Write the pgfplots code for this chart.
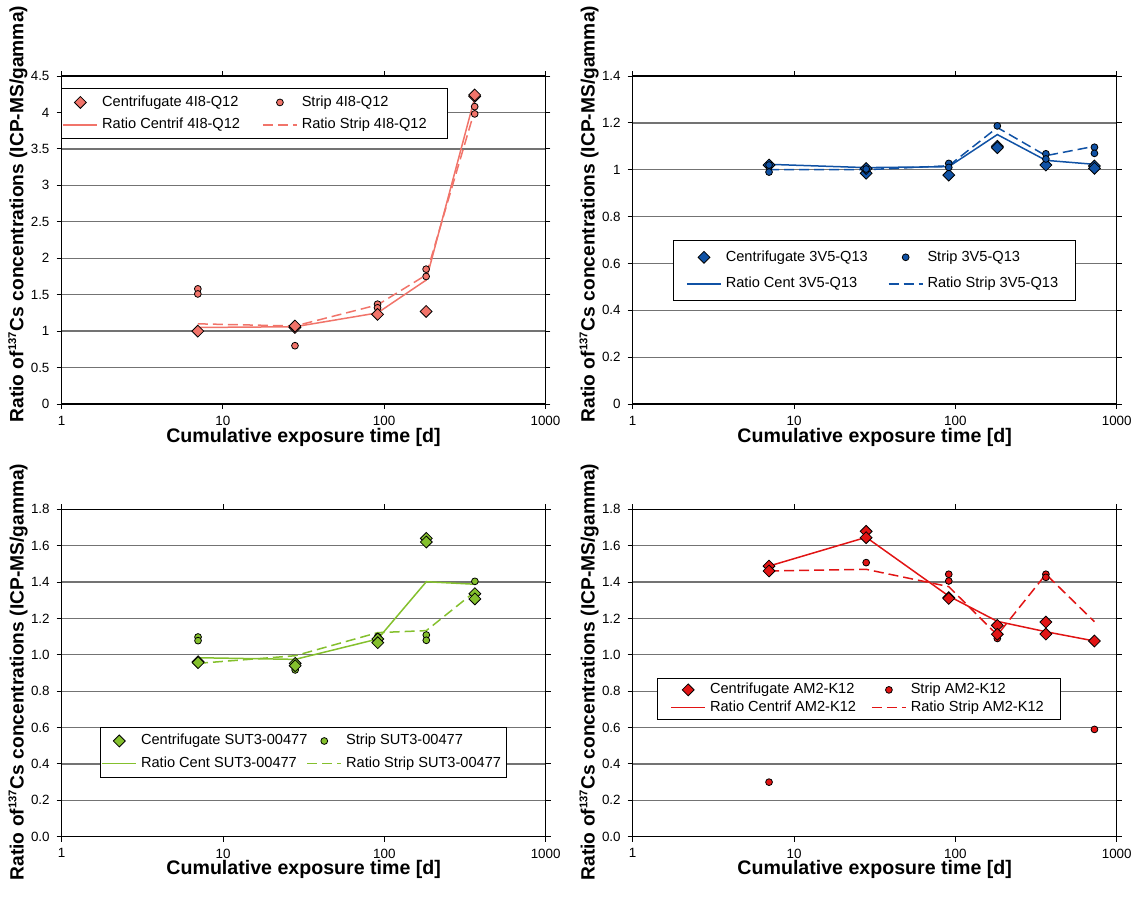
\documentclass[border=0pt]{standalone}
\usepackage{pgfplots}
\pgfplotsset{compat=1.18}
\usepackage{fontspec}
\setmainfont{Liberation Sans}
\definecolor{cA}{RGB}{241,116,106}
\definecolor{cB}{RGB}{16,82,165}
\definecolor{cC}{RGB}{132,192,45}
\definecolor{cD}{RGB}{225,20,20}
\newcommand{\ylab}{Ratio of\textsuperscript{\fontsize{5.6}{6}\selectfont 137}Cs concentrations (ICP-MS/gamma)}
\begin{document}
\begin{tikzpicture}
\path[use as bounding box] (0,0) rectangle (570.5pt,-455.5pt);

% Panel 1
\begin{axis}[at={(30.75pt,-202pt)}, anchor=south west,
  scale only axis, width=242pt, height=164pt,
  xmode=log, xmin=1, xmax=1000,
  xtick={1,10,100,1000}, xticklabels={1,10,100,1000},
  xminorticks=false, yminorticks=false,
  ymajorgrids, grid style={black!55, line width=0.65pt},
  axis line style={line width=0.65pt},
  tick align=outside, major tick length=2.5pt,
  tick style={black, line width=0.5pt},
  ticklabel style={font=\fontsize{6.7}{8}\selectfont},
  xlabel={Cumulative exposure time [d]},
  xlabel style={font=\bfseries\fontsize{9.8}{11}\selectfont, at={(axis description cs:0.5,-0.1006)}, anchor=center},
  ylabel={\ylab},
  ylabel style={font=\bfseries\fontsize{9.6}{11}\selectfont, at={(axis description cs:-0.09,0.579)}, anchor=center},
  ymin=0, ymax=4.5, ytick={0,0.5,1,1.5,2,2.5,3,3.5,4,4.5},
  yticklabels={0,0.5,1,1.5,2,2.5,3,3.5,4,4.5},
  legend cell align=left, legend columns=2,
  legend style={font=\fontsize{7.3}{8.5}\selectfont, draw=black, line width=0.5pt, fill=white,
    inner xsep=0.5pt, inner ysep=1.5pt, at={(axis description cs:-0.001,0.963)}, anchor=north west, row sep=0.5pt,
    /tikz/every even column/.append style={column sep=9pt}}]
\addlegendimage{only marks, mark=square*, mark size=2.1pt, mark options={solid, rotate=45, draw=black, line width=0.4pt, fill=cA}}
\addlegendentry{Centrifugate 4I8-Q12}
\addlegendimage{only marks, mark=*, mark size=1.7pt, mark options={solid, draw=black, line width=0.4pt, fill=cA}}
\addlegendentry{Strip 4I8-Q12}
\addplot[no marks, solid, line width=0.75pt, color=cA] coordinates {(7,1.05) (28,1.06) (91,1.25) (182,1.70) (364,4.20)};
\addlegendentry{Ratio Centrif 4I8-Q12}
\addplot[no marks, line width=0.75pt, color=cA, dash pattern=on 5pt off 2.5pt] coordinates {(7,1.10) (28,1.07) (91,1.36) (182,1.77) (364,4.03)};
\addlegendentry{Ratio Strip 4I8-Q12\hspace*{8pt}}
\addplot[only marks, mark=*, mark size=1.7pt, mark options={solid, draw=black, line width=0.4pt, fill=cA}, forget plot] coordinates {(7,1.58) (7,1.51) (28,0.80) (91,1.37) (91,1.32) (182,1.85) (182,1.75) (364,4.08) (364,3.98)};
\addplot[only marks, mark=square*, mark size=2.1pt, mark options={solid, rotate=45, draw=black, line width=0.4pt, fill=cA}, forget plot] coordinates {(7,1.00) (28,1.05) (28,1.07) (91,1.23) (182,1.27) (364,4.22) (364,4.24)};
\end{axis}

% Panel 2
\begin{axis}[at={(316.35pt,-202pt)}, anchor=south west,
  scale only axis, width=242pt, height=164pt,
  xmode=log, xmin=1, xmax=1000,
  xtick={1,10,100,1000}, xticklabels={1,10,100,1000},
  xminorticks=false, yminorticks=false,
  ymajorgrids, grid style={black!55, line width=0.65pt},
  axis line style={line width=0.65pt},
  tick align=outside, major tick length=2.5pt,
  tick style={black, line width=0.5pt},
  ticklabel style={font=\fontsize{6.7}{8}\selectfont},
  xlabel={Cumulative exposure time [d]},
  xlabel style={font=\bfseries\fontsize{9.8}{11}\selectfont, at={(axis description cs:0.5,-0.1006)}, anchor=center},
  ylabel={\ylab},
  ylabel style={font=\bfseries\fontsize{9.6}{11}\selectfont, at={(axis description cs:-0.09,0.579)}, anchor=center},
  ymin=0, ymax=1.4, ytick={0,0.2,0.4,0.6,0.8,1,1.2,1.4},
  yticklabels={0,0.2,0.4,0.6,0.8,1,1.2,1.4},
  legend cell align=left, legend columns=2,
  legend style={font=\fontsize{7.3}{8.5}\selectfont, draw=black, line width=0.5pt, fill=white,
    inner xsep=6.5pt, inner ysep=3pt, at={(axis description cs:0.0826,0.5)}, anchor=north west, row sep=2.5pt,
    /tikz/every even column/.append style={column sep=8pt}}]
\addlegendimage{only marks, mark=square*, mark size=2.1pt, mark options={solid, rotate=45, draw=black, line width=0.4pt, fill=cB}}
\addlegendentry{Centrifugate 3V5-Q13}
\addlegendimage{only marks, mark=*, mark size=1.7pt, mark options={solid, draw=black, line width=0.4pt, fill=cB}}
\addlegendentry{Strip 3V5-Q13}
\addplot[no marks, solid, line width=0.75pt, color=cB] coordinates {(7,1.023) (28,1.009) (91,1.013) (182,1.15) (364,1.04) (728,1.023)};
\addlegendentry{Ratio Cent 3V5-Q13}
\addplot[no marks, line width=0.75pt, color=cB, dash pattern=on 5pt off 2.5pt] coordinates {(7,1.0) (28,1.0) (91,1.017) (182,1.18) (364,1.06) (728,1.10)};
\addlegendentry{Ratio Strip 3V5-Q13}
\addplot[only marks, mark=square*, mark size=2.1pt, mark options={solid, rotate=45, draw=black, line width=0.4pt, fill=cB}, forget plot] coordinates {(7,1.02) (28,0.985) (28,1.005) (91,0.977) (182,1.10) (182,1.094) (364,1.02) (728,1.016) (728,1.006)};
\addplot[only marks, mark=*, mark size=1.7pt, mark options={solid, draw=black, line width=0.4pt, fill=cB}, forget plot] coordinates {(7,1.02) (7,0.99) (28,1.003) (91,1.027) (91,1.01) (182,1.187) (364,1.068) (364,1.046) (728,1.096) (728,1.07)};
\end{axis}

% Panel 3
\begin{axis}[at={(30.85pt,-418.35pt)}, anchor=south west,
  scale only axis, width=242pt, height=163.7pt,
  xmode=log, xmin=1, xmax=1000,
  xtick={1,10,100,1000}, xticklabels={1,10,100,1000},
  xminorticks=false, yminorticks=false,
  ymajorgrids, grid style={black!55, line width=0.65pt},
  axis line style={line width=0.65pt},
  tick align=outside, major tick length=2.5pt,
  tick style={black, line width=0.5pt},
  ticklabel style={font=\fontsize{6.7}{8}\selectfont},
  xlabel={Cumulative exposure time [d]},
  xlabel style={font=\bfseries\fontsize{9.8}{11}\selectfont, at={(axis description cs:0.5,-0.1006)}, anchor=center},
  ylabel={\ylab},
  ylabel style={font=\bfseries\fontsize{9.6}{11}\selectfont, at={(axis description cs:-0.09,0.503)}, anchor=center},
  ymin=0, ymax=1.8, ytick={0,0.2,0.4,0.6,0.8,1.0,1.2,1.4,1.6,1.8},
  yticklabels={0.0,0.2,0.4,0.6,0.8,1.0,1.2,1.4,1.6,1.8},
  legend cell align=left, legend columns=2,
  legend style={font=\fontsize{7.3}{8.5}\selectfont, draw=black, line width=0.5pt, fill=white,
    inner xsep=0.5pt, inner ysep=1.5pt, at={(axis description cs:0.079,0.336)}, anchor=north west, row sep=0.5pt,
    /tikz/every even column/.append style={column sep=-2.5pt}}]
\addlegendimage{only marks, mark=square*, mark size=2.1pt, mark options={solid, rotate=45, draw=black, line width=0.4pt, fill=cC}}
\addlegendentry{Centrifugate SUT3-00477}
\addlegendimage{only marks, mark=*, mark size=1.7pt, mark options={solid, draw=black, line width=0.4pt, fill=cC}}
\addlegendentry{Strip SUT3-00477}
\addplot[no marks, solid, line width=0.75pt, color=cC] coordinates {(7,0.984) (28,0.975) (91,1.087) (182,1.402) (364,1.388)};
\addlegendentry{Ratio Cent SUT3-00477}
\addplot[no marks, line width=0.75pt, color=cC, dash pattern=on 5pt off 2.5pt] coordinates {(7,0.953) (28,0.995) (91,1.122) (182,1.133) (364,1.347)};
\addlegendentry{Ratio Strip SUT3-00477}
\addplot[only marks, mark=*, mark size=1.7pt, mark options={solid, draw=black, line width=0.4pt, fill=cC}, forget plot] coordinates {(7,1.098) (7,1.078) (28,0.935) (28,0.917) (91,1.10) (91,1.087) (182,1.109) (182,1.08) (364,1.404)};
\addplot[only marks, mark=square*, mark size=2.1pt, mark options={solid, rotate=45, draw=black, line width=0.4pt, fill=cC}, forget plot] coordinates {(7,0.962) (7,0.957) (28,0.953) (28,0.94) (91,1.087) (91,1.067) (182,1.64) (182,1.62) (364,1.336) (364,1.307)};
\end{axis}

% Panel 4
\begin{axis}[at={(316.35pt,-418.35pt)}, anchor=south west,
  scale only axis, width=242pt, height=163.7pt,
  xmode=log, xmin=1, xmax=1000,
  xtick={1,10,100,1000}, xticklabels={1,10,100,1000},
  xminorticks=false, yminorticks=false,
  ymajorgrids, grid style={black!55, line width=0.65pt},
  axis line style={line width=0.65pt},
  tick align=outside, major tick length=2.5pt,
  tick style={black, line width=0.5pt},
  ticklabel style={font=\fontsize{6.7}{8}\selectfont},
  xlabel={Cumulative exposure time [d]},
  xlabel style={font=\bfseries\fontsize{9.8}{11}\selectfont, at={(axis description cs:0.5,-0.1006)}, anchor=center},
  ylabel={\ylab},
  ylabel style={font=\bfseries\fontsize{9.6}{11}\selectfont, at={(axis description cs:-0.09,0.503)}, anchor=center},
  ymin=0, ymax=1.8, ytick={0,0.2,0.4,0.6,0.8,1.0,1.2,1.4,1.6,1.8},
  yticklabels={0.0,0.2,0.4,0.6,0.8,1.0,1.2,1.4,1.6,1.8},
  legend cell align=left, legend columns=2,
  legend style={font=\fontsize{7.3}{8.5}\selectfont, draw=black, line width=0.5pt, fill=white,
    inner xsep=6.5pt, inner ysep=0.5pt, at={(axis description cs:0.05,0.486)}, anchor=north west, row sep=-2pt,
    /tikz/every even column/.append style={column sep=5.5pt}}]
\addlegendimage{only marks, mark=square*, mark size=2.1pt, mark options={solid, rotate=45, draw=black, line width=0.4pt, fill=cD}}
\addlegendentry{Centrifugate AM2-K12}
\addlegendimage{only marks, mark=*, mark size=1.7pt, mark options={solid, draw=black, line width=0.4pt, fill=cD}}
\addlegendentry{Strip AM2-K12}
\addplot[no marks, solid, line width=0.75pt, color=cD] coordinates {(7,1.488) (28,1.646) (91,1.323) (182,1.184) (364,1.127) (728,1.076)};
\addlegendentry{Ratio Centrif AM2-K12}
\addplot[no marks, line width=0.75pt, color=cD, dash pattern=on 5pt off 2.5pt] coordinates {(7,1.461) (28,1.47) (91,1.375) (182,1.109) (364,1.443) (728,1.182)};
\addlegendentry{Ratio Strip AM2-K12}
\addplot[only marks, mark=*, mark size=1.7pt, mark options={solid, draw=black, line width=0.4pt, fill=cD}, forget plot] coordinates {(7,0.30) (28,1.507) (91,1.443) (91,1.406) (182,1.118) (182,1.09) (364,1.443) (364,1.426) (728,0.59)};
\addplot[only marks, mark=square*, mark size=2.1pt, mark options={solid, rotate=45, draw=black, line width=0.4pt, fill=cD}, forget plot] coordinates {(7,1.488) (7,1.461) (28,1.679) (28,1.644) (91,1.314) (91,1.31) (182,1.162) (182,1.113) (364,1.18) (364,1.114) (728,1.076)};
\end{axis}

\end{tikzpicture}
\end{document}
